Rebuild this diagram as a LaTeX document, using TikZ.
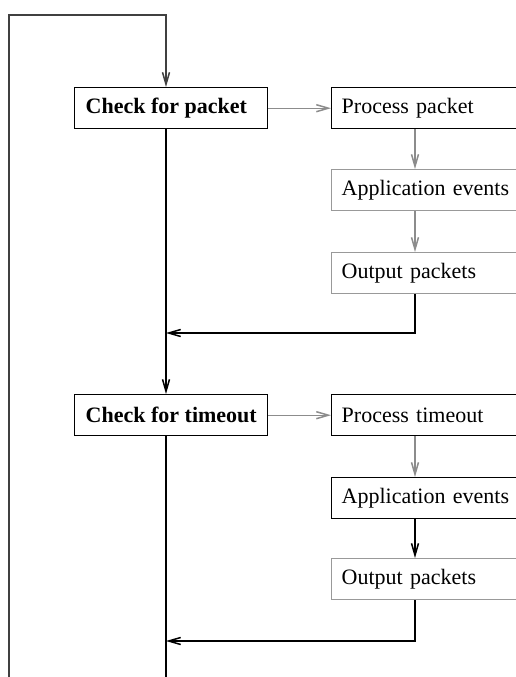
\documentclass[tikz,border=0pt]{standalone}
\usepackage{fontspec}
\setmainfont{Liberation Serif}
\usetikzlibrary{arrows.meta}
\begin{document}
\begin{tikzpicture}[x=1pt,y=-1pt,
  txt/.style={font=\fontsize{22}{26}\selectfont},
  lbox/.style={draw=black, line width=1.4pt, minimum width=193pt,
    inner xsep=11pt, inner ysep=0pt, minimum height=41pt, anchor=north west,
    font=\fontsize{22}{26}\selectfont\bfseries},
  rbox/.style={txt, draw=black, line width=1.4pt, text width=180pt, align=left,
    inner xsep=10pt, inner ysep=0pt, minimum height=41pt, anchor=north west},
  gbox/.style={rbox, draw=black!40},
  tip/.style={-{Straight Barb[length=12pt,width=7pt,line width=1.5pt]}},
  dark/.style={draw=black, line width=1.4pt},
  lgrey/.style={draw=black!45, line width=1.4pt},
  loopc/.style={draw=black!75, line width=1.6pt}
]
\useasboundingbox (0,0) rectangle (516,677);
\clip (0,0) rectangle (516,677);

\node[lbox] (check1) at (74,87) {\makebox[171pt][l]{Check for packet}};
\node[rbox] (proc1) at (331,87) {Process packet};
\node[gbox] (app1) at (331,169) {Application events};
\node[gbox] (out1) at (331,252) {Output packets};

\node[lbox] (check2) at (74,394) {\makebox[171pt][l]{Check for timeout}};
\node[rbox] (proc2) at (331,394) {Process timeout};
\node[rbox] (app2) at (331,477) {Application events};
\node[gbox] (out2) at (331,558) {Output packets};

\coordinate (j1) at (166,333);
\coordinate (j2) at (166,641);
\coordinate (botL) at (9,700);
\coordinate (topL) at (9,15);
\coordinate (botR) at (166,700);

% loop back
\draw[loopc, tip] (botL) -- (topL) -| ([xshift=92pt]check1.north west);
\draw[dark] ([xshift=92pt]check2.south west) -- (botR);

% main spine
\draw[dark, tip] ([xshift=92pt]check1.south west) -- ([xshift=92pt]check2.north west);

% first branch
\draw[lgrey, tip] (check1.east) -- (proc1.west);
\draw[lgrey, tip] ([xshift=84pt]proc1.south west) -- ([xshift=84pt]app1.north west);
\draw[lgrey, tip] ([xshift=84pt]app1.south west) -- ([xshift=84pt]out1.north west);
\draw[dark, tip] ([xshift=84pt]out1.south west) |- (j1);

% second branch
\draw[lgrey, tip] (check2.east) -- (proc2.west);
\draw[lgrey, tip] ([xshift=84pt]proc2.south west) -- ([xshift=84pt]app2.north west);
\draw[dark, tip] ([xshift=84pt]app2.south west) -- ([xshift=84pt]out2.north west);
\draw[dark, tip] ([xshift=84pt]out2.south west) |- (j2);
\end{tikzpicture}
\end{document}
